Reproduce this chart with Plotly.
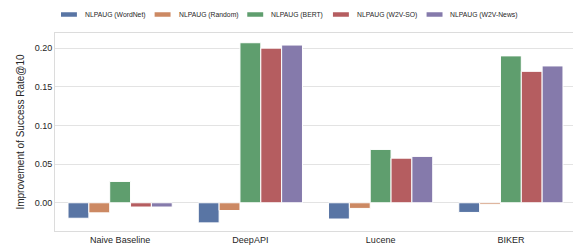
import plotly.graph_objects as go

categories = ["Naive Baseline", "DeepAPI", "Lucene", "BIKER"]
series_names = ["NLPAUG (WordNet)", "NLPAUG (Random)", "NLPAUG (BERT)", "NLPAUG (W2V-SO)", "NLPAUG (W2V-News)"]
wordnet = [-0.020, -0.026, -0.021, -0.0125]
random_ = [-0.013, -0.010, -0.0073, -0.002]
bert = [0.0276, 0.207, 0.069, 0.190]
w2v_so = [-0.0055, 0.200, 0.0577, 0.170]
w2v_news = [-0.0055, 0.204, 0.060, 0.177]
series_values = [wordnet, random_, bert, w2v_so, w2v_news]
colors = ["#5975A4", "#CC8963", "#5F9E6E", "#B55D60", "#857AAB"]
y_ticks = [0.0, 0.05, 0.10, 0.15, 0.20]
y_tick_labels = ["0.00", "0.05", "0.10", "0.15", "0.20"]

W, H = 581, 249
ML, MR, MT, MB = 46, 12, 25, 26
PW, PH = W - ML - MR, H - MT - MB

fig = go.Figure()
for name, vals, c in zip(series_names, series_values, colors):
    fig.add_trace(go.Bar(
        x=categories, y=vals, name=name, showlegend=False,
        marker=dict(color=c, line=dict(color="white", width=1)),
    ))

# manual legend (pixel positions converted to paper coords)
legend_patch_px = [52, 146, 239, 325, 419]
patch_w, patch_h, legend_cy = 16, 4.5, 6.5
def px_x(p):
    return (p - ML) / PW
def px_y(p):
    return (H - MB - p) / PH
shapes = []
annotations = []
for name, c, px in zip(series_names, colors, legend_patch_px):
    shapes.append(dict(
        type="rect", xref="paper", yref="paper",
        x0=px_x(px), x1=px_x(px + patch_w),
        y0=px_y(legend_cy + patch_h / 2), y1=px_y(legend_cy - patch_h / 2),
        fillcolor=c, line=dict(width=0), layer="above",
    ))
    annotations.append(dict(
        text=name, xref="paper", yref="paper", x=px_x(px + patch_w + 6),
        y=px_y(legend_cy), xanchor="left", yanchor="middle", showarrow=False,
        font=dict(size=6.8, color="#262626"),
    ))

font_family = "Liberation Sans, Arial, sans-serif"
fig.update_layout(
    width=W, height=H,
    margin=dict(l=ML, r=MR, t=MT, b=MB),
    barmode="group", bargap=0.2, bargroupgap=0,
    plot_bgcolor="white", paper_bgcolor="white",
    font=dict(family=font_family, size=9, color="#262626"),
    showlegend=False,
    shapes=shapes, annotations=annotations,
    xaxis=dict(
        range=[-0.5, 3.5], showgrid=False, ticks="", showline=True, mirror=True,
        linecolor="#dcdcdc", linewidth=1, tickfont=dict(size=9),
    ),
    yaxis=dict(
        range=[-0.0365, 0.2196], tickvals=y_ticks, ticktext=y_tick_labels,
        showgrid=True, gridcolor="#e3e3e3", gridwidth=1, zeroline=True,
        zerolinecolor="#e3e3e3", zerolinewidth=1, showline=True, mirror=True,
        linecolor="#dcdcdc", linewidth=1, ticks="",
        title=dict(text="Improvement of Success Rate@10", font=dict(size=10), standoff=8),
        tickfont=dict(size=9),
    ),
)
fig.write_html("out.html")
